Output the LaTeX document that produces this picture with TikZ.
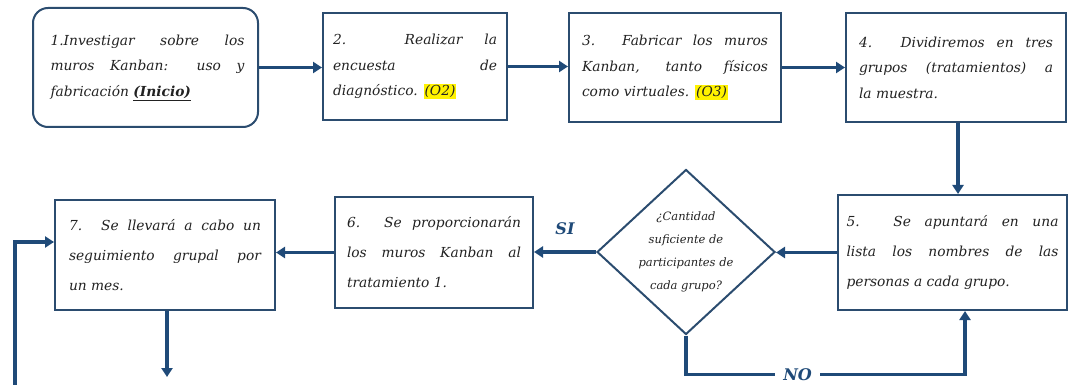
\documentclass[tikz,border=0pt]{standalone}
\usepackage{fontspec}
\setmainfont{DejaVu Serif}
\usetikzlibrary{arrows.meta,shapes.geometric,calc}
\definecolor{ln}{HTML}{1F4A78}
\definecolor{bd}{HTML}{2B4C6F}
\definecolor{tx}{HTML}{222222}
\newcommand{\hlt}[1]{{\setlength{\fboxsep}{1pt}\colorbox{yellow}{#1}}}
\begin{document}
\begin{tikzpicture}[x=1pt,y=-1pt,
 box/.style={draw=bd,line width=2pt,rectangle,inner sep=0pt,align=justify,text=tx,
   font=\itshape\fontsize{13.8}{25.5}\selectfont},
 lowbox/.style={box,font=\itshape\fontsize{13.8}{30}\selectfont},
 conn/.style={draw=ln,line width=3.5pt,-{Triangle[length=9pt,width=11pt]}},
 lbl/.style={font=\bfseries\itshape\fontsize{16}{18}\selectfont,text=ln,inner sep=2pt},
]
\useasboundingbox (0,0) rectangle (1069,385);
\node[box, rounded corners=15pt, minimum width=225pt, minimum height=119pt, text width=198pt] (b1) at (145.5,67.5)
 {\hspace*{4pt}1.Investigar sobre los\linebreak \hspace*{4pt}muros Kanban: uso y\linebreak \hspace*{4pt}fabricación \underline{\textbf{(Inicio)}}};
\node[box, minimum width=184pt, minimum height=107pt, text width=164pt] (b2) at (415,66.5)
 {2. Realizar la\linebreak encuesta de\linebreak diagnóstico. \hlt{(O2)}};
\node[box, minimum width=212pt, minimum height=109pt, text width=186pt] (b3) at (675,67.5)
 {3. Fabricar los muros\linebreak Kanban, tanto físicos\linebreak como virtuales. \hlt{(O3)}};
\node[box, minimum width=220pt, minimum height=109pt, text width=194pt] (b4) at (956,67.5)
 {4. Dividiremos en tres\linebreak grupos (tratamientos) a\linebreak la muestra.};
\node[lowbox, minimum width=229pt, minimum height=115pt, text width=212pt] (b5) at (952.5,252.5)
 {5. Se apuntará en una\linebreak lista los nombres de las\linebreak personas a cada grupo.};
\node[diamond, draw=bd, line width=2pt, minimum width=178pt, minimum height=165pt, inner sep=-20pt,
  align=center, text=tx, font=\itshape\fontsize{11.5}{23}\selectfont] (d) at (686,252)
 {¿Cantidad\\suficiente de\\participantes de\\cada grupo?};
\node[lowbox, minimum width=198pt, minimum height=111pt, text width=174pt] (b6) at (434,252.5)
 {6. Se proporcionarán\linebreak los muros Kanban al\linebreak tratamiento 1.};
\node[lowbox, minimum width=220pt, minimum height=110pt, text width=192pt] (b7) at (165,255)
 {7. Se llevará a cabo un\linebreak seguimiento grupal por\linebreak un mes.};
\coordinate (ax) at (958,0);
\coordinate (lin) at (15,385);
\coordinate (o7) at (167,377);
\draw[conn] (b1.east) -- (b1.east -| b2.west);
\draw[conn] (b2.east) -- (b2.east -| b3.west);
\draw[conn] (b3.east) -- (b3.east -| b4.west);
\draw[conn] (b4.south -| ax) -- (b5.north -| ax);
\draw[conn] (b5.west) -- (b5.west -| d.east);
\draw[conn] (d.west) -- node[lbl, midway, above=14pt] {SI} (d.west -| b6.east);
\draw[conn] (b6.west) -- (b6.west -| b7.east);
\draw[conn] (b7.south -| o7) -- (o7);
\draw[conn] (lin) |- ([yshift=13pt]b7.west);
\draw[conn] (d.south) -- ++(0,39) -| node[lbl, pos=0.2, fill=white, inner xsep=8pt, inner ysep=1pt] {NO} ([xshift=12.5pt]b5.south);
\end{tikzpicture}
\end{document}
